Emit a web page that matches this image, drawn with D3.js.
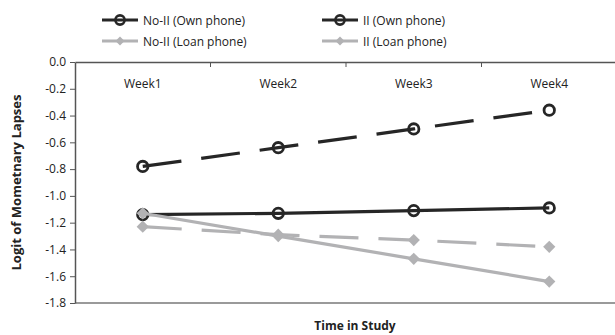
<!DOCTYPE html>
<html><head><meta charset="utf-8">
<script src="https://cdn.jsdelivr.net/npm/d3@7"></script>
<style>
body{margin:0;background:#fff;}
text{font-family:"Open Sans",sans-serif;fill:#222;}
</style></head>
<body><svg id="c" width="615" height="335"></svg>
<script>
const categories = ["Week1","Week2","Week3","Week4"];
const seriesNames = ["No-II (Own phone)","II (Own phone)","No-II (Loan phone)","II (Loan phone)"];
const noIIOwn  = [-1.14, -1.13, -1.11, -1.09];
const iiOwn    = [-0.78, -0.64, -0.50, -0.36];
const noIILoan = [-1.13, -1.30, -1.47, -1.64];
const iiLoan   = [-1.23, -1.29, -1.33, -1.38];
const yTicks = [0,-0.2,-0.4,-0.6,-0.8,-1.0,-1.2,-1.4,-1.6,-1.8];

const series = [
  {name: seriesNames[1], values: iiOwn, color:"#262626", dash:"39,20", marker:"circle", legend:[1,0]},
  {name: seriesNames[0], values: noIIOwn, color:"#262626", dash:null, marker:"circle", legend:[0,0]},
  {name: seriesNames[3], values: iiLoan, color:"#b2b2b4", dash:"39,20", marker:"diamond", legend:[1,1]},
  {name: seriesNames[2], values: noIILoan, color:"#b2b2b4", dash:null, marker:"diamond", legend:[0,1]}
];

const svg = d3.select("#c");
const pLeft = 75, pRight = 617, pTop = 62, pBottom = 303;
const x = d3.scaleBand().domain(categories).range([pLeft, pRight]);
const y = d3.scaleLinear().domain([-1.8, 0]).range([pBottom, pTop]);

svg.append("line").attr("x1", pLeft).attr("x2", pRight).attr("y1", pBottom).attr("y2", pBottom)
  .attr("stroke", "#9a9a9a").attr("stroke-width", 2);

const ya = svg.append("g").attr("transform", `translate(${pLeft},0)`)
  .call(d3.axisLeft(y).tickValues(yTicks).tickFormat(d3.format(".1f")).tickSize(5).tickSizeOuter(0));
ya.select(".domain").attr("stroke", "#555").attr("stroke-width", 1.5);
ya.selectAll(".tick line").attr("stroke", "#555");
ya.selectAll(".tick text").attr("font-size", 12).attr("fill", "#222").attr("x", -9)
  .style("font-family", "'Open Sans',sans-serif")
  .text(d => d3.format(".1f")(d).replace("−","-"));

const xa = svg.append("g").attr("transform", `translate(0,${y(0)})`)
  .call(d3.axisBottom(x).tickSize(0).tickSizeOuter(0));
xa.select(".domain").attr("stroke", "#555").attr("stroke-width", 1.5);
xa.selectAll(".tick text").attr("font-size", 12).attr("fill", "#222").attr("dy", "0").attr("y", 26)
  .style("font-family", "'Open Sans',sans-serif");
categories.slice(1).forEach(c => {
  svg.append("line").attr("x1", x(c)).attr("x2", x(c)).attr("y1", y(0)).attr("y2", y(0) + 5)
    .attr("stroke", "#555").attr("stroke-width", 1);
});

const cx = d => x(d) + x.bandwidth() / 2;

series.forEach(s => {
  const g = svg.append("g");
  s.values.forEach((v, i) => {
    if (s.marker === "circle") {
      g.append("circle").attr("cx", cx(categories[i])).attr("cy", y(v)).attr("r", 5.2)
        .attr("fill", "none").attr("stroke", s.color).attr("stroke-width", 2.8);
    } else {
      g.append("path").attr("d", d3.symbol().type(d3.symbolSquare).size(75)())
        .attr("transform", `translate(${cx(categories[i])},${y(v)}) rotate(45)`)
        .attr("fill", s.color);
    }
  });
  const line = d3.line().x((d, i) => cx(categories[i])).y(d => y(d));
  svg.append("path").datum(s.values).attr("d", line).attr("fill", "none")
    .attr("stroke", s.color).attr("stroke-width", 3.2)
    .attr("stroke-dasharray", s.dash);
});

const legX = [102, 322], legY = [20, 41];
series.forEach(s => {
  const lx = legX[s.legend[0]], ly = legY[s.legend[1]];
  if (s.marker === "circle") {
    svg.append("circle").attr("cx", lx + 18).attr("cy", ly).attr("r", 4.6)
      .attr("fill", "none").attr("stroke", s.color).attr("stroke-width", 2.6);
  } else {
    svg.append("path").attr("d", d3.symbol().type(d3.symbolSquare).size(40)())
      .attr("transform", `translate(${lx + 18},${ly}) rotate(45)`).attr("fill", s.color);
  }
  svg.append("line").attr("x1", lx).attr("x2", lx + 36).attr("y1", ly).attr("y2", ly)
    .attr("stroke", s.color).attr("stroke-width", 3.2);
  svg.append("text").attr("x", lx + 41).attr("y", ly + 4.5).attr("font-size", 12).text(s.name);
});

svg.append("text").attr("transform", `translate(21,${(pTop + pBottom) / 2}) rotate(-90)`)
  .attr("text-anchor", "middle").attr("font-size", 12.5).attr("font-weight", "bold")
  .attr("textLength", 176).attr("lengthAdjust", "spacingAndGlyphs").text("Logit of Mometnary Lapses");
svg.append("text").attr("x", 355).attr("y", 330).attr("text-anchor", "middle")
  .attr("font-size", 12).attr("font-weight", "bold").text("Time in Study");
</script></body></html>
